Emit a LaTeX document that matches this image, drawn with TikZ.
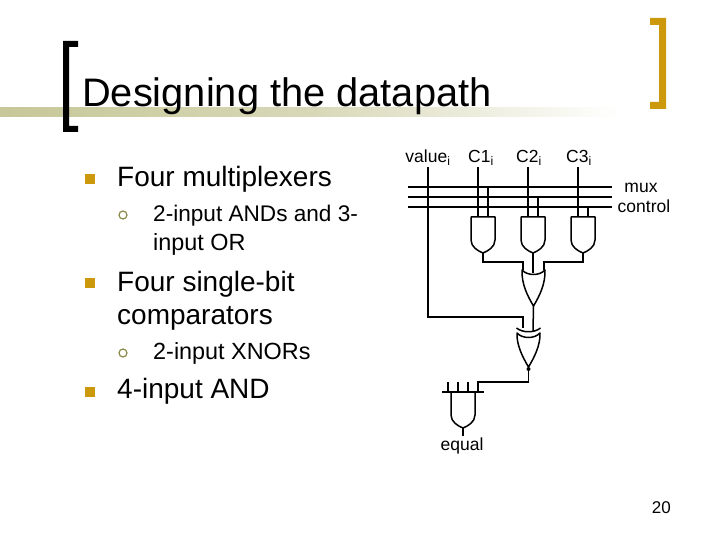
\documentclass[tikz,border=0pt]{standalone}
\usepackage{fontspec}
\setmainfont{Liberation Sans}
\usetikzlibrary{arrows.meta, positioning}
\definecolor{gold}{rgb}{0.8, 0.6, 0.05}
\definecolor{olive}{rgb}{0.78, 0.78, 0.6}
\definecolor{ringolive}{rgb}{0.55, 0.55, 0.3}
\begin{document}
\begin{tikzpicture}[
        x=1pt, y=-1pt,
        wire/.style={draw, line width=1.5pt},
        gatebody/.style={draw, line width=1.5pt, line join=round},
        topitem/.style={anchor=base west, font=\fontsize{28}{32}\selectfont, align=left, inner sep=0pt},
        subitem/.style={anchor=base west, font=\fontsize{23.4}{27}\selectfont, align=left, inner sep=0pt},
        sqbullet/.style={fill=gold, minimum size=10pt, inner sep=0pt},
        ringbullet/.style={draw=ringolive, circle, line width=1.2pt, minimum size=8pt, inner sep=0pt},
        wirelabel/.style={font=\fontsize{17.5}{19}\selectfont, inner sep=0pt},
        andgate/.pic={
            \draw [gatebody] (-12,0) -- (12,0) -- (12,23) .. controls (12,30) and (5,34) .. (0,36)
                .. controls (-5,34) and (-12,30) .. (-12,23) -- cycle;
            \coordinate (-out) at (0,36);
        },
        orgate/.pic={
            \draw [gatebody] (-11.5,0) .. controls (-6,6) and (6,6) .. (11.5,0)
                .. controls (12,14) and (6,26) .. (0,36)
                .. controls (-6,26) and (-12,14) .. (-11.5,0) -- cycle;
            \coordinate (-out) at (0,36);
        },
        xnorgate/.pic={
            \draw [gatebody] (-11.5,0) .. controls (-6,6) and (6,6) .. (11.5,0)
                .. controls (12,12) and (6,24) .. (0,34)
                .. controls (-6,24) and (-12,12) .. (-11.5,0) -- cycle;
            \draw [gatebody] (-12,-5) .. controls (-6,0) and (6,0) .. (12,-5);
            \node [circle, fill=black, minimum size=4pt, inner sep=0pt] (-bubble) at (0,36) {};
            \coordinate (-out) at (0,38);
        }
        ]

        % Slide frame
        \useasboundingbox (0,0) rectangle (720,540);
        \fill [white] (0,0) rectangle (720,540);
        \fill [left color=olive, right color=white, middle color=olive!70] (0,108) rectangle (620,117);
        \fill [black] (63,41) -- (78,41) -- (78,47) -- (69,47) -- (69,126) -- (78,126) -- (78,132) -- (63,132) -- cycle;
        \fill [gold] (650,18) -- (666,18) -- (666,109) -- (650,109) -- (650,102) -- (659,102) -- (659,25) -- (650,25) -- cycle;
        \node (title) [anchor=base west, inner sep=0pt, font=\fontsize{39.8}{43}\selectfont] at (82,106.5) {Designing the datapath};

        % Text
        \node (b1) [sqbullet] at (90,179) {};
        \node (t1) [topitem] at (117,187) {Four multiplexers};
        \node (b2) [ringbullet] at (123,215) {};
        \node (t2) [subitem, font=\fontsize{22.6}{27}\selectfont] at (153,222) {2-input ANDs and 3-};
        \node (t3) [subitem] at (153,250) {input OR};
        \node (b3) [sqbullet] at (90,283) {};
        \node (t4) [topitem] at (117,291) {Four single-bit};
        \node (t5) [topitem] at (117,324) {comparators};
        \node (b4) [ringbullet] at (123,353) {};
        \node (t6) [subitem] at (153,359) {2-input XNORs};
        \node (b5) [sqbullet] at (90,392) {};
        \node (t7) [topitem] at (117,398) {4-input AND};
        \node (pagenum) [anchor=base east, inner sep=0pt, font=\fontsize{17}{19}\selectfont] at (671,513) {20};

        % Labels
        \node (valuei) [wirelabel] at (428,158) {value\textsubscript{i}};
        \node (c1i) [wirelabel] at (481,158) {C1\textsubscript{i}};
        \node (c2i) [wirelabel] at (529,158) {C2\textsubscript{i}};
        \node (c3i) [wirelabel] at (579,158) {C3\textsubscript{i}};
        \node (muxlabel) [wirelabel] at (641,188) {mux};
        \node (ctrllabel) [wirelabel] at (644,206) {control};
        \node (equal) [wirelabel] at (462,445.5) {equal};

        % Gates
        \pic (and1) at (483,217) {andgate};
        \pic (and2) at (533,217) {andgate};
        \pic (and3) at (583,217) {andgate};
        \pic (or1) at (533.5,270) {orgate};
        \pic (xn1) at (528.5,333) {xnorgate};
        \pic (and4) at (463,392) {andgate};

        % Wire ends
        \coordinate (ctrl1l) at (408,187);
        \coordinate (ctrl1r) at (612,187);
        \coordinate (ctrl2l) at (408,197);
        \coordinate (ctrl2r) at (612,197);
        \coordinate (ctrl3l) at (408,207);
        \coordinate (ctrl3r) at (612,207);
        \coordinate (barl) at (442,392);
        \coordinate (barr) at (484,392);

        % Wires
        \draw [wire] (ctrl1l) -- (ctrl1r);
        \draw [wire] (ctrl2l) -- (ctrl2r);
        \draw [wire] (ctrl3l) -- (ctrl3r);
        \draw [wire] (barl) -- (barr);
        \draw [wire] (428,167) |- (523,317) -- (523,328);
        \foreach \x in {478,528,578} {
            \draw [wire] (\x,167) -- (\x,217);
        }
        \draw [wire] (488,187) -- (488,217);
        \draw [wire] (538,197) -- (538,217);
        \draw [wire] (588,207) -- (588,217);
        \draw [wire] (and1-out) |- (523,262) -- (523,270);
        \draw [wire] (and2-out) -- (533,273);
        \draw [wire] (and3-out) |- (544,262) -- (544,270);
        \draw [wire] (or1-out) -- (533,331);
        \draw [wire] (xn1-out) |- (478,382) -- (478,392);
        \foreach \x in {448,458,468} {
            \draw [wire] (\x,382) -- (\x,392);
        }
        \draw [wire] (and4-out) -- (463,436);

\end{tikzpicture}
\end{document}
